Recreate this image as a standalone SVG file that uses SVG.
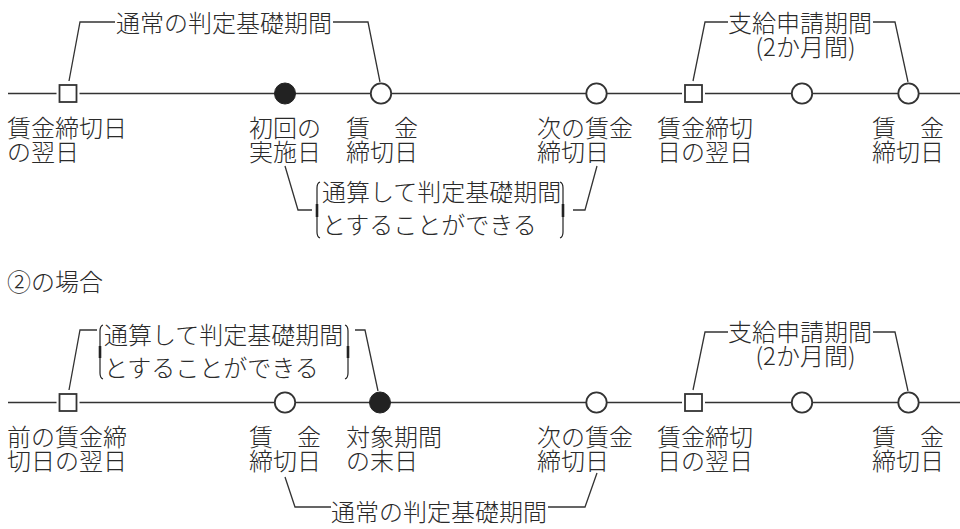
<svg xmlns="http://www.w3.org/2000/svg" width="960" height="529" viewBox="0 0 960 529">
<style>
text{font-family:"Noto Sans CJK JP","Noto Sans",sans-serif;font-size:24px;font-weight:300;fill:#2a2a2a}
.ln{fill:none;stroke:#333;stroke-width:1.3}
.tl{fill:none;stroke:#333;stroke-width:1.4}
.paren{fill:none;stroke:#222;stroke-width:1.2}
.pmid{fill:none;stroke:#222;stroke-width:2.6}
.sq{fill:#fff;stroke:#333;stroke-width:1.8}
.sqgap{fill:none;stroke:#fff;stroke-width:6}
.oc{fill:#fff;stroke:#333;stroke-width:1.8}
.fc{fill:#222;stroke:#222;stroke-width:1}
.mid{text-anchor:middle}
</style>
<rect width="960" height="529" fill="#fff"/>

<g id="timelines">
<line class="tl" x1="8" y1="93.5" x2="960" y2="93.5"/>
<line class="tl" x1="8" y1="402.5" x2="960" y2="402.5"/>
</g>

<g id="connectors">
<polyline class="ln" points="69,81 80,22 115,22"/>
<polyline class="ln" points="333,22 368,22 380,82"/>
<polyline class="ln" points="693,81 705,22 728,22"/>
<polyline class="ln" points="873,22 895,22 908,82"/>
<polyline class="ln" points="285,166 298,210 312,210"/>
<polyline class="ln" points="573,210 585,210 597,166"/>
<polyline class="ln" points="69,390 80,330 97,330"/>
<polyline class="ln" points="355,330 365,330 378,391"/>
<polyline class="ln" points="693,390 705,332 728,332"/>
<polyline class="ln" points="873,332 895,332 908,391"/>
<polyline class="ln" points="285,477 295,507 331,507"/>
<polyline class="ln" points="548,507 585,507 597,473"/>
</g>

<g id="top-marks">
<g id="t1"><rect class="sqgap" x="59.5" y="85" width="17" height="17"/><rect class="sq" x="59.5" y="85" width="17" height="17"/></g>
<g id="t2"><circle class="fc" cx="285" cy="93.5" r="10.5"/></g>
<g id="t3"><circle class="oc" cx="381" cy="93.5" r="10.2"/></g>
<g id="t4"><circle class="oc" cx="596.5" cy="93.5" r="10.2"/></g>
<g id="t5"><rect class="sqgap" x="685" y="85" width="17" height="17"/><rect class="sq" x="685" y="85" width="17" height="17"/></g>
<g id="t6"><circle class="oc" cx="802" cy="93.5" r="10.2"/></g>
<g id="t7"><circle class="oc" cx="908.5" cy="93.5" r="10.2"/></g>
</g>

<g id="bottom-marks">
<g id="b1"><rect class="sqgap" x="59.5" y="394" width="17" height="17"/><rect class="sq" x="59.5" y="394" width="17" height="17"/></g>
<g id="b2"><circle class="oc" cx="285" cy="402.5" r="10.2"/></g>
<g id="b3"><circle class="fc" cx="380" cy="402.5" r="10.5"/></g>
<g id="b4"><circle class="oc" cx="596.5" cy="402.5" r="10.2"/></g>
<g id="b5"><rect class="sqgap" x="685" y="394" width="17" height="17"/><rect class="sq" x="685" y="394" width="17" height="17"/></g>
<g id="b6"><circle class="oc" cx="802" cy="402.5" r="10.2"/></g>
<g id="b7"><circle class="oc" cx="908.5" cy="402.5" r="10.2"/></g>
</g>

<g id="top-period-labels">
<text x="116" y="31.5">通常の判定基礎期間</text>
<text x="728" y="31.5">支給申請期間<tspan class="mid" x="805.5" y="55.5" text-anchor="middle">(2か月間)</tspan></text>
</g>

<g id="top-labels">
<g id="tl1"><text x="7" y="136.5">賃金締切日<tspan x="7" y="160.5">の翌日</tspan></text></g>
<g id="tl2"><text x="249" y="136.5">初回の<tspan x="249" y="160.5">実施日</tspan></text></g>
<g id="tl3"><text x="346" y="136.5">賃　金<tspan x="346" y="160.5">締切日</tspan></text></g>
<g id="tl4"><text x="537" y="136.5">次の賃金<tspan x="537" y="160.5">締切日</tspan></text></g>
<g id="tl5"><text x="657" y="136.5">賃金締切<tspan x="657" y="160.5">日の翌日</tspan></text></g>
<g id="tl6"><text x="872" y="136.5">賃　金<tspan x="872" y="160.5">締切日</tspan></text></g>
</g>

<g id="top-combined">
<path class="paren" d="M320,182 Q317,183 317,188 L317,232 Q317,237 320,238"/>
<line class="pmid" x1="317" y1="204" x2="317" y2="217"/>
<text x="322" y="200.5">通算して判定基礎期間<tspan x="322" y="234">とすることができる</tspan></text>
<path class="paren" d="M560,182 Q563,183 563,188 L563,232 Q563,237 560,238"/>
<line class="pmid" x1="563" y1="204" x2="563" y2="217"/>
</g>

<g id="case2-title"><text x="7" y="290.5">②の場合</text></g>

<g id="bottom-combined">
<path class="paren" d="M103,325 Q100,326 100,331 L100,373 Q100,378 103,379"/>
<line class="pmid" x1="100" y1="346" x2="100" y2="358"/>
<text x="104" y="343.5">通算して判定基礎期間<tspan x="104" y="376.5">とすることができる</tspan></text>
<path class="paren" d="M345,325 Q348,326 348,331 L348,373 Q348,378 345,379"/>
<line class="pmid" x1="348" y1="346" x2="348" y2="358"/>
</g>

<g id="bottom-period-labels">
<text x="728" y="340.5">支給申請期間<tspan x="805.5" y="364.5" text-anchor="middle">(2か月間)</tspan></text>
<text x="331" y="520.5">通常の判定基礎期間</text>
</g>

<g id="bottom-labels">
<g id="bl1"><text x="7" y="446">前の賃金締<tspan x="7" y="470">切日の翌日</tspan></text></g>
<g id="bl2"><text x="249" y="446">賃　金<tspan x="249" y="470">締切日</tspan></text></g>
<g id="bl3"><text x="346" y="446">対象期間<tspan x="346" y="470">の末日</tspan></text></g>
<g id="bl4"><text x="537" y="446">次の賃金<tspan x="537" y="470">締切日</tspan></text></g>
<g id="bl5"><text x="657" y="446">賃金締切<tspan x="657" y="470">日の翌日</tspan></text></g>
<g id="bl6"><text x="872" y="446">賃　金<tspan x="872" y="470">締切日</tspan></text></g>
</g>
</svg>
